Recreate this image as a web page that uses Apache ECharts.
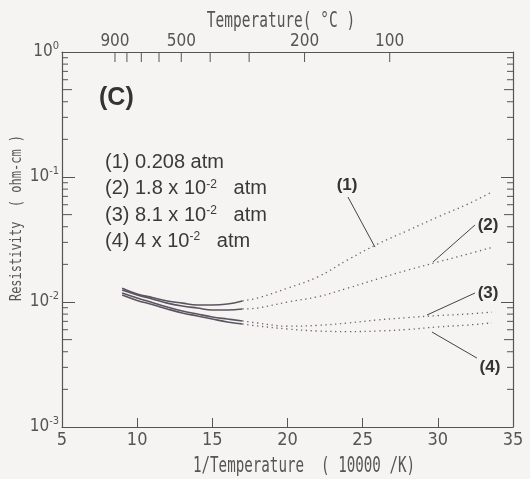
<!DOCTYPE html>
<html><head><meta charset="utf-8">
<script src="https://cdn.jsdelivr.net/npm/echarts@6/dist/echarts.min.js"></script>
<style>html,body{margin:0;padding:0;background:#f5f4f2}#c{width:530px;height:479px}</style>
</head><body><div id="c"></div>
<script>
// ---- data ----
const invT = [9, 10, 11, 12, 13, 14, 15, 16, 17, 18, 20, 22, 24, 26, 28, 30, 32, 33.6];
const rho1 = [0.0129, 0.0116, 0.01086, 0.0102, 0.0098, 0.00946, 0.00946, 0.00964, 0.0102, 0.01076, 0.0129, 0.01585, 0.0217, 0.0291, 0.0373, 0.0479, 0.0608, 0.0759];
const rho2 = [0.01247, 0.0114, 0.01057, 0.0098, 0.00929, 0.00895, 0.00863, 0.00863, 0.0088, 0.00895, 0.0100, 0.0110, 0.0129, 0.0153, 0.0180, 0.0209, 0.0242, 0.0273];
const rho3 = [0.0118, 0.01076, 0.0099, 0.00912, 0.00848, 0.00802, 0.00759, 0.00731, 0.00705, 0.00679, 0.0064, 0.0065, 0.00679, 0.00719, 0.0075, 0.00779, 0.00802, 0.0083];
const rho4 = [0.01138, 0.0103, 0.00955, 0.0088, 0.00817, 0.00773, 0.00731, 0.00692, 0.00667, 0.00643, 0.00608, 0.00586, 0.0058, 0.00586, 0.00603, 0.00632, 0.00654, 0.00681];
const curves = [rho1, rho2, rho3, rho4];
const curveTags = ['(1)', '(2)', '(3)', '(4)'];
const solidUntil = 17;

const xTickLabels = [5, 10, 15, 20, 25, 30, 35];
const topTempTicks = [900, 800, 700, 600, 500, 400, 300, 200, 100];
const topTempLabels = [900, 500, 200, 100];
const midMult = [5];
const minorMult = [2, 3, 4, 6, 7, 8, 9];
const minorDecades = [-3, -2, -1];

const tagPos = [[23.96, 0.0863], [33.34, 0.0413], [33.34, 0.0118], [33.47, 0.00302]];
const arrowFrom = [[24.02, 0.0692], [32.47, 0.0413], [32.47, 0.0118], [32.6, 0.00356]];
const arrowTo = [[25.82, 0.0275], [29.68, 0.0209], [29.28, 0.00787], [29.61, 0.00575]];

// ---- helpers ----
const X_MIN = 5, X_MAX = 35, Y_MIN = 0.001, Y_MAX = 1;
const toInv = t => 10000 / (t + 273.15);
const AX = '#555';
const CURVE = '#5a5560';
const DOT = '#6d6070';
const narrow = '"Liberation Sans Narrow", "DejaVu Sans Condensed", sans-serif';

// tick items: [x, y, length, direction]  (dir 1: rightwards, -1: leftwards, 0: downwards)
const tickItems = [];
minorDecades.forEach(n => {
  midMult.forEach(m => {
    tickItems.push([X_MIN, m * Math.pow(10, n), 10, 1]);
    tickItems.push([X_MAX, m * Math.pow(10, n), 9, -1]);
  });
  minorMult.forEach(m => {
    tickItems.push([X_MIN, m * Math.pow(10, n), 6, 1]);
    tickItems.push([X_MAX, m * Math.pow(10, n), 6, -1]);
  });
});
topTempTicks.forEach(t => tickItems.push([toInv(t), Y_MAX, 10, 0]));

const series = [];
curves.forEach((rho, i) => {
  const pts = invT.map((x, k) => [x, rho[k]]);
  series.push({
    type: 'line', name: curveTags[i] + 's', xAxisIndex: 0, yAxisIndex: 0,
    data: pts.filter(p => p[0] <= solidUntil), smooth: 0.4, symbol: 'none',
    lineStyle: { color: CURVE, width: 1.6 }, silent: true
  });
  series.push({
    type: 'line', name: curveTags[i] + 'd', xAxisIndex: 0, yAxisIndex: 0,
    data: pts.filter(p => p[0] >= solidUntil), smooth: 0.4, symbol: 'none',
    lineStyle: { color: DOT, width: 1.3, type: [1.3, 3.6] }, silent: true,
    markLine: {
      silent: true, symbol: ['none', 'arrow'], symbolSize: [0, 7],
      lineStyle: { color: '#444', width: 1, type: 'solid' }, label: { show: false },
      data: [[{ coord: arrowFrom[i] }, { coord: arrowTo[i] }]]
    },
    markPoint: {
      silent: true, symbol: 'circle', symbolSize: 0,
      label: { show: true, position: 'inside', formatter: curveTags[i], color: '#333',
        fontFamily: '"Liberation Sans", Arial, sans-serif', fontWeight: 'bold', fontSize: 17 },
      data: [{ coord: tagPos[i] }]
    }
  });
});
series.push({
  type: 'custom', name: 'ticks', xAxisIndex: 0, yAxisIndex: 0, silent: true, clip: false, z: 5,
  data: tickItems, encode: { x: 0, y: 1 },
  renderItem: (params, api) => {
    const p = api.coord([api.value(0), api.value(1)]);
    const len = api.value(2), dir = api.value(3);
    const shape = dir === 0
      ? { x1: p[0], y1: p[1], x2: p[0], y2: p[1] + len }
      : { x1: p[0], y1: p[1], x2: p[0] + dir * len, y2: p[1] };
    return { type: 'line', shape: shape, style: { stroke: AX, lineWidth: 1 } };
  }
});

const option = {
  backgroundColor: '#f5f4f2',
  animation: false,
  grid: { left: 62, right: 17, top: 52, bottom: 52 },
  xAxis: [
    {
      type: 'value', position: 'bottom', min: X_MIN, max: X_MAX, interval: 5,
      axisLine: { lineStyle: { color: AX, width: 1.2 } },
      axisTick: { inside: true, length: 9 },
      splitLine: { show: false },
      axisLabel: { color: '#555', fontFamily: narrow, fontSize: 18, margin: 4,
        formatter: v => xTickLabels.includes(v) ? String(v) : '' }
    },
    {
      type: 'value', position: 'top', min: X_MIN, max: X_MAX,
      axisLine: { show: true, lineStyle: { color: AX, width: 1.2 } },
      splitLine: { show: false },
      axisTick: { show: false },
      axisLabel: { show: true, color: '#555', fontFamily: narrow, fontSize: 17, margin: 2,
        customValues: topTempLabels.map(toInv),
        formatter: v => String(Math.round(10000 / v - 273.15)) }
    }
  ],
  yAxis: [
    {
      type: 'log', logBase: 10, min: Y_MIN, max: Y_MAX, position: 'left',
      axisLine: { show: true, lineStyle: { color: AX, width: 1.2 } },
      axisTick: { inside: true, length: 13 },
      splitLine: { show: false }, minorTick: { show: false },
      axisLabel: {
        margin: 3, color: '#555',
        formatter: v => { const e = Math.round(Math.log10(v)); return '{b|10}{s|' + e + '}'; },
        rich: {
          b: { fontFamily: narrow, fontSize: 17, lineHeight: 22, color: '#555' },
          s: { fontFamily: narrow, fontSize: 11, lineHeight: 11, verticalAlign: 'top', color: '#555' }
        }
      }
    },
    {
      type: 'log', logBase: 10, min: Y_MIN, max: Y_MAX, position: 'right',
      axisLine: { show: true, lineStyle: { color: AX, width: 1.2 } },
      axisTick: { show: true, inside: true, length: 12 },
      splitLine: { show: false }, axisLabel: { show: false }
    }
  ],
  series: series,
  graphic: [
    { type: 'text', x: 281, y: 22, scaleY: 1.45, style: { text: 'Temperature( °C )', font: '14.5px "DejaVu Sans Mono", monospace', fill: '#555', align: 'center', verticalAlign: 'middle' } },
    { type: 'text', x: 304, y: 467, scaleY: 1.45, style: { text: '1/Temperature  ( 10000 /K)', font: '14.2px "DejaVu Sans Mono", monospace', fill: '#555', align: 'center', verticalAlign: 'middle' } },
    { type: 'text', x: 17, y: 218, rotation: Math.PI / 2, scaleY: 1.36, style: { text: 'Resistivity  ( ohm-cm )', font: '12px "DejaVu Sans Mono", monospace', fill: '#555', align: 'center', verticalAlign: 'middle' } },
    { type: 'text', x: 99, y: 98, style: { text: '(C)', font: 'bold 25px "Liberation Sans", Arial, sans-serif', fill: '#333', align: 'left', verticalAlign: 'middle' } },
    { type: 'text', x: 105, y: 162, style: { text: '(1) 0.208 atm', font: '20px "Liberation Sans", Arial, sans-serif', fill: '#3a3a3a', verticalAlign: 'middle' } },
    { type: 'text', x: 105, y: 188.5, style: { text: '(2) 1.8 x 10{s|-2}   atm', font: '20px "Liberation Sans", Arial, sans-serif', fill: '#3a3a3a', verticalAlign: 'middle',
      rich: { s: { fontSize: 12, fontFamily: '"Liberation Sans", Arial, sans-serif', verticalAlign: 'top', lineHeight: 12, fill: '#3a3a3a' } } } },
    { type: 'text', x: 105, y: 215, style: { text: '(3) 8.1 x 10{s|-2}   atm', font: '20px "Liberation Sans", Arial, sans-serif', fill: '#3a3a3a', verticalAlign: 'middle',
      rich: { s: { fontSize: 12, fontFamily: '"Liberation Sans", Arial, sans-serif', verticalAlign: 'top', lineHeight: 12, fill: '#3a3a3a' } } } },
    { type: 'text', x: 105, y: 241, style: { text: '(4) 4 x 10{s|-2}   atm', font: '20px "Liberation Sans", Arial, sans-serif', fill: '#3a3a3a', verticalAlign: 'middle',
      rich: { s: { fontSize: 12, fontFamily: '"Liberation Sans", Arial, sans-serif', verticalAlign: 'top', lineHeight: 12, fill: '#3a3a3a' } } } }
  ]
};
const chart = echarts.init(document.getElementById('c'), null, { renderer: 'canvas' });
chart.setOption(option);
</script></body></html>
